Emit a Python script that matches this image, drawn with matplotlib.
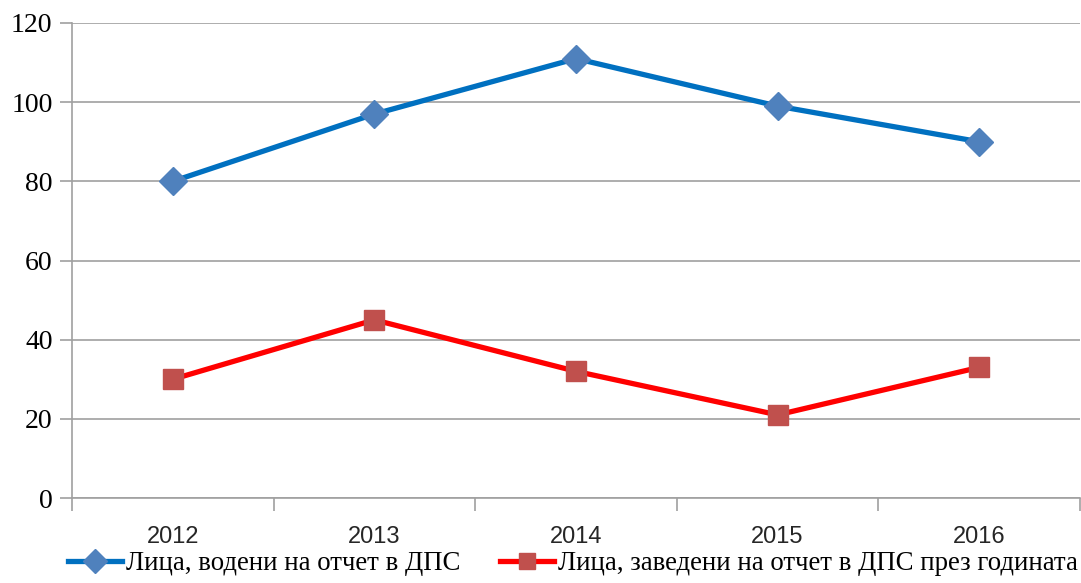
import matplotlib.pyplot as plt
import numpy as np

years = ["2012", "2013", "2014", "2015", "2016"]
kept = [80, 97, 111, 99, 90]
added = [30, 45, 32, 21, 33]
label_kept = "Лица, водени на отчет в ДПС"
label_added = "Лица, заведени на отчет в ДПС през годината"

serif = ["Liberation Serif", "DejaVu Serif"]
sans = ["Liberation Sans", "DejaVu Sans"]

fig = plt.figure(figsize=(10.81, 5.83), dpi=100)
ax = fig.add_axes([72 / 1081, 1 - 498 / 583, 1008 / 1081, 475 / 583])

x = np.arange(len(years))
ax.plot(x, kept, color="#0070C0", lw=3.8, marker="D", ms=14,
        mfc="#4F81BD", mec="#4F81BD", label=label_kept, zorder=3)
ax.plot(x, added, color="#FF0000", lw=3.8, marker="s", ms=14,
        mfc="#C0504D", mec="#C0504D", label=label_added, zorder=3)

ax.set_xlim(-0.5, len(years) - 0.5)
ax.set_ylim(0, 120)
ax.set_yticks(range(0, 121, 20))
ax.set_yticklabels([str(v) for v in range(0, 121, 20)], family=serif, fontsize=20)
ax.set_xticks(x)
ax.set_xticklabels(years, family=sans, fontsize=17, color="#262626")
ax.set_xticks(np.arange(-0.5, len(years)), minor=True)
ax.tick_params(axis="x", which="major", length=0, pad=20)
ax.tick_params(axis="x", which="minor", length=9, color="#a0a0a0", width=1.2)
ax.tick_params(axis="y", length=9, color="#a0a0a0", width=1.2, pad=5)

ax.grid(axis="y", color="#a0a0a0", lw=1.2)
ax.set_axisbelow(True)
for s in ["top", "right"]:
    ax.spines[s].set_visible(False)
ax.spines["left"].set_color("#a0a0a0")
ax.spines["bottom"].set_color("#a0a0a0")
ax.spines["left"].set_linewidth(1.2)
ax.spines["bottom"].set_linewidth(1.2)

leg = fig.legend(loc="lower left", bbox_to_anchor=(44 / 1081, -0.03), ncol=2,
                 frameon=False, prop={"family": serif, "size": 19.3},
                 handlelength=2.0, handletextpad=0.15, columnspacing=1.5,
                 markerscale=0.85)

fig.savefig("out.png", dpi=100)
